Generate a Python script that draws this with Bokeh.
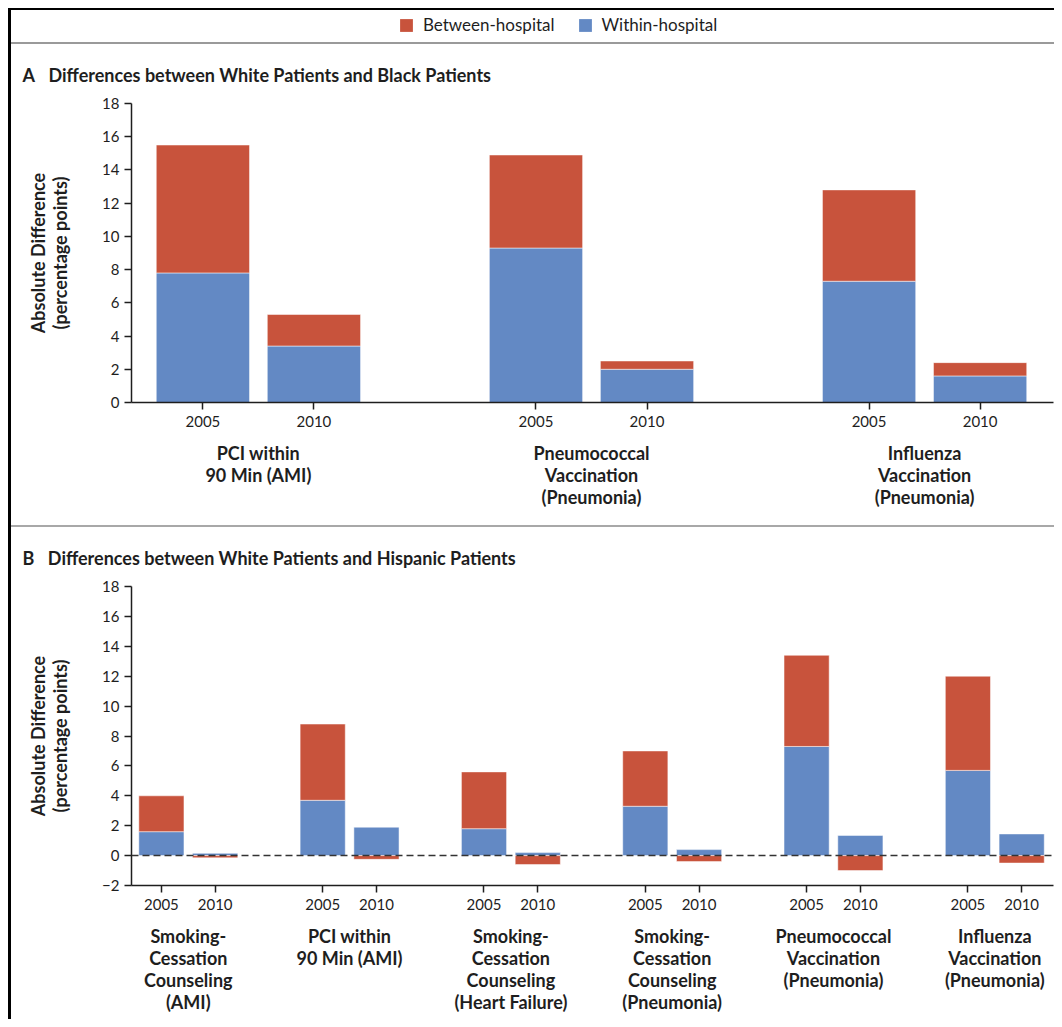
import numpy as np
from bokeh.plotting import figure
from bokeh.models import (ColumnDataSource, FixedTicker, LinearAxis, Span, Legend,
                          LegendItem, Div, Range1d, Title)
from bokeh.layouts import row, column
from bokeh.embed import file_html
from bokeh.resources import INLINE

FONT = "Lato"
RED = "#C8533C"
BLUE = "#6389C4"
INK = "#1e1e1e"

# ---------------- data ----------------
years = ["2005", "2010"]

a_title = "A\u2003Differences between White Patients and Black Patients"
a_groups = ["PCI within\n90 Min (AMI)",
            "Pneumococcal\nVaccination\n(Pneumonia)",
            "Influenza\nVaccination\n(Pneumonia)"]
a_within_2005 = [7.8, 9.3, 7.3]
a_between_2005 = [7.7, 5.6, 5.5]
a_within_2010 = [3.4, 2.0, 1.6]
a_between_2010 = [1.9, 0.5, 0.8]

b_title = "B\u2003Differences between White Patients and Hispanic Patients"
b_groups = ["Smoking-\nCessation\nCounseling\n(AMI)",
            "PCI within\n90 Min (AMI)",
            "Smoking-\nCessation\nCounseling\n(Heart Failure)",
            "Smoking-\nCessation\nCounseling\n(Pneumonia)",
            "Pneumococcal\nVaccination\n(Pneumonia)",
            "Influenza\nVaccination\n(Pneumonia)"]
b_within_2005 = [1.6, 3.7, 1.8, 3.3, 7.3, 5.7]
b_between_2005 = [2.4, 5.1, 3.8, 3.7, 6.1, 6.3]
b_within_2010 = [0.15, 1.9, 0.2, 0.4, 1.35, 1.45]
b_between_2010 = [-0.15, -0.25, -0.6, -0.4, -1.0, -0.5]

series_labels = ["Between-hospital", "Within-hospital"]
y_label = "Absolute Difference\n(percentage points)"

W = 1043
FRAME_W = 922
FRAME_H = 299
BL, BR = 120, 1          # left / right borders shared by every figure
TOP = 59                 # top border of the two panels (room for the title)
A_BOTTOM, B_BOTTOM = 123, 134


def make_panel(title, groups, w05, b05, w10, b10, ymin, x_lo, x_hi,
               border_bottom):
    n = len(groups)
    centers = np.arange(n, dtype=float)
    xs = np.concatenate([centers - 1 / 6, centers + 1 / 6])
    within = np.array(w05 + w10, dtype=float)
    between = np.array(b05 + b10, dtype=float)
    labels = [years[0]] * n + [years[1]] * n

    blue_bottom = np.minimum(0, within)
    blue_top = np.maximum(0, within)
    red_bottom = np.where(between >= 0, np.maximum(within, 0), np.minimum(within, 0))
    red_top = red_bottom + between

    src = ColumnDataSource(dict(x=xs, bb=blue_bottom, bt=blue_top,
                                rb=red_bottom, rt=red_top))

    p = figure(frame_width=FRAME_W, frame_height=FRAME_H, title=None,
               toolbar_location=None, output_backend="svg", margin=0,
               x_range=Range1d(x_lo, x_hi), y_range=Range1d(ymin, 18),
               min_border_left=BL, min_border_right=BR, min_border_top=TOP,
               min_border_bottom=border_bottom)
    p.outline_line_color = None
    p.grid.visible = False

    p.vbar(x="x", bottom="bb", top="bt", width=0.28, source=src,
           fill_color=BLUE, line_color="white", line_alpha=0.5, line_width=1)
    p.vbar(x="x", bottom="rb", top="rt", width=0.28, source=src,
           fill_color=RED, line_color="white", line_alpha=0.5, line_width=1)

    t = Title(text=title, align="left", offset=-109, standoff=35,
              text_font=FONT, text_font_size="18px", text_font_style="bold",
              text_color=INK)
    p.add_layout(t, "above")

    # y axis
    ya = p.yaxis[0]
    ya.ticker = FixedTicker(ticks=list(range(ymin, 19, 2)))
    if ymin < 0:
        ya.major_label_overrides = {ymin: "\u2212" + str(-ymin)}
    ya.major_tick_out = 7
    ya.major_tick_in = 0
    ya.minor_tick_line_color = None
    ya.axis_line_width = 1.5
    ya.major_tick_line_width = 1.5
    ya.axis_line_color = INK
    ya.major_tick_line_color = INK
    ya.major_label_text_font = FONT
    ya.major_label_text_font_size = "15px"
    ya.major_label_text_color = INK
    ya.major_label_standoff = 5
    ya.axis_label = y_label
    ya.axis_label_text_font = FONT
    ya.axis_label_text_font_size = "18px"
    ya.axis_label_text_font_style = "bold"
    ya.axis_label_text_color = INK
    ya.axis_label_text_line_height = 1.0
    ya.axis_label_standoff = 28

    # x axis (years)
    xa = p.xaxis[0]
    xa.ticker = FixedTicker(ticks=[float(v) for v in xs])
    xa.major_label_overrides = {float(v): lab for v, lab in zip(xs, labels)}
    xa.major_tick_out = 7
    xa.major_tick_in = 0
    xa.minor_tick_line_color = None
    xa.axis_line_width = 1.5
    xa.major_tick_line_width = 1.5
    xa.axis_line_color = INK
    xa.major_tick_line_color = INK
    xa.major_label_text_font = FONT
    xa.major_label_text_font_size = "15px"
    xa.major_label_text_color = INK
    xa.major_label_standoff = 6

    # group labels
    ga = LinearAxis(ticker=FixedTicker(ticks=[float(c) for c in centers]),
                    major_label_overrides={float(c): g for c, g in zip(centers, groups)})
    ga.axis_line_color = None
    ga.major_tick_line_color = None
    ga.minor_tick_line_color = None
    ga.major_label_standoff = 6
    ga.major_label_text_font = FONT
    ga.major_label_text_font_size = "18px"
    ga.major_label_text_font_style = "bold"
    ga.major_label_text_color = INK
    ga.major_label_text_line_height = 1.0
    p.add_layout(ga, "below")

    if ymin < 0:
        p.add_layout(Span(location=0, dimension="width", line_color="#333333",
                          line_width=1.5, line_dash="7 4"))
    return p


# legend strip (same left/right geometry as the panels)
LEG_H = 32
lf = figure(frame_width=FRAME_W, frame_height=LEG_H, title=None, toolbar_location=None,
            output_backend="svg", margin=0, min_border_left=BL, min_border_right=BR,
            min_border_top=0, min_border_bottom=0,
            x_range=(0, 1), y_range=(0, 1), x_axis_type=None, y_axis_type=None)
lf.outline_line_color = None
lf.grid.visible = False
# swatch-only renderers: zero-size bars, used just to feed the legend
r_red = lf.vbar(x=[0.5], bottom=[0], top=[0], width=0, fill_color=RED, line_color=None)
r_blue = lf.vbar(x=[0.5], bottom=[0], top=[0], width=0, fill_color=BLUE, line_color=None)
legend = Legend(items=[LegendItem(label=series_labels[0], renderers=[r_red]),
                       LegendItem(label=series_labels[1], renderers=[r_blue])],
                orientation="horizontal", location=(267, 7),
                border_line_color=None, background_fill_alpha=0,
                padding=0, margin=0, spacing=22, label_standoff=9,
                glyph_width=16, glyph_height=16, label_height=16,
                label_text_font=FONT, label_text_font_size="17px",
                label_text_color=INK)
lf.add_layout(legend)

pa = make_panel(a_title, a_groups, a_within_2005, a_between_2005,
                a_within_2010, a_between_2010, 0, -0.381, 2.387, A_BOTTOM)
pb = make_panel(b_title, b_groups, b_within_2005, b_between_2005,
                b_within_2010, b_between_2010, -2, -0.352, 5.364, B_BOTTOM)

TOTAL_H = 2 + LEG_H + 2 + (TOP + FRAME_H + A_BOTTOM) + 2 + (TOP + FRAME_H + B_BOTTOM)
left_bar = Div(text="", width=3, height=TOTAL_H, margin=0,
               styles={"background-color": "black"})
top_line = Div(text="", width=W, height=2, margin=0,
               styles={"background-color": "black"})
gray1 = Div(text="", width=W, height=2, margin=0,
            styles={"background-color": "#9a9a9a"})
gray2 = Div(text="", width=W, height=2, margin=0,
            styles={"background-color": "#a8a8a8"})

layout = row(column(left_bar, margin=0),
             column(top_line, lf, gray1, pa, gray2, pb, margin=0),
             margin=(8, 0, 0, 8))

open("out.html", "w").write(file_html(layout, INLINE))
